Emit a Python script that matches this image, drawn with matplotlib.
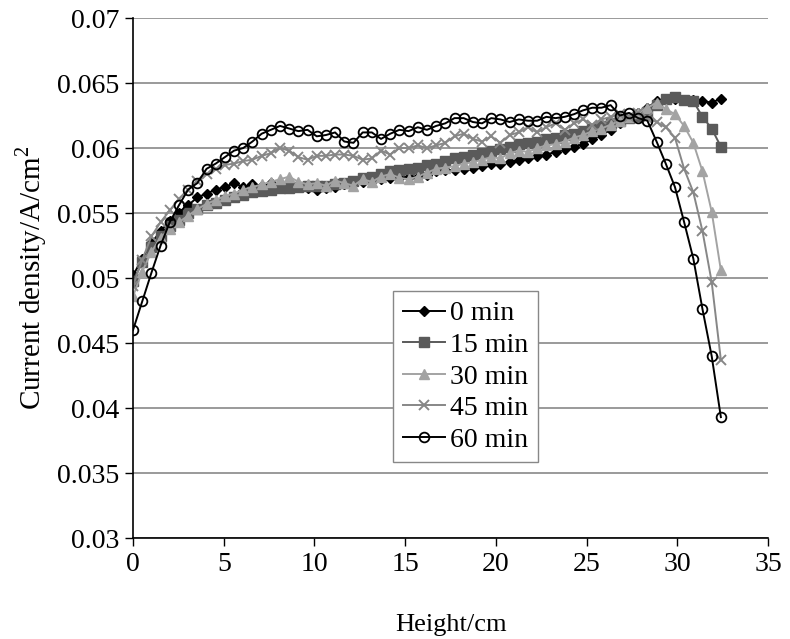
import numpy as np
import matplotlib
matplotlib.use("Agg")
import matplotlib.pyplot as plt
from matplotlib.ticker import FuncFormatter

# heights of the measuring points (cm), 65 points from 0 to 32.4
height = np.linspace(0, 32.4, 65)

min0 = [0.0502, 0.0515, 0.0527, 0.0536, 0.0544, 0.0550, 0.0556, 0.0562, 0.0565, 0.0568,
        0.0570, 0.0573, 0.0570, 0.0572, 0.0571, 0.0573, 0.0572, 0.0571, 0.0570, 0.0569,
        0.0568, 0.0569, 0.0570, 0.0572, 0.0573, 0.0574, 0.0575, 0.0576, 0.0577, 0.0577,
        0.0578, 0.0578, 0.0579, 0.0582, 0.0583, 0.0583, 0.0584, 0.0585, 0.0586, 0.0588,
        0.0588, 0.0589, 0.0591, 0.0592, 0.0594, 0.0595, 0.0597, 0.0599, 0.0601, 0.0603,
        0.0607, 0.0610, 0.0614, 0.0619, 0.0623, 0.0627, 0.0631, 0.0636, 0.0638, 0.0638,
        0.0637, 0.0637, 0.0636, 0.0635, 0.0638]
min15 = [0.0498, 0.0512, 0.0524, 0.0532, 0.0540, 0.0545, 0.0550, 0.0553, 0.0556, 0.0558,
         0.0560, 0.0562, 0.0564, 0.0566, 0.0567, 0.0568, 0.0569, 0.0569, 0.0570, 0.0571,
         0.0571, 0.0571, 0.0572, 0.0573, 0.0575, 0.0577, 0.0578, 0.0580, 0.0582, 0.0583,
         0.0584, 0.0585, 0.0587, 0.0588, 0.0590, 0.0592, 0.0593, 0.0595, 0.0596, 0.0598,
         0.0599, 0.0601, 0.0603, 0.0604, 0.0605, 0.0607, 0.0608, 0.0610, 0.0611, 0.0613,
         0.0615, 0.0617, 0.0619, 0.0621, 0.0623, 0.0625, 0.0628, 0.0633, 0.0638, 0.0639,
         0.0637, 0.0636, 0.0624, 0.0615, 0.0601]
min30 = [0.0486, 0.0505, 0.0520, 0.0531, 0.0538, 0.0543, 0.0548, 0.0553, 0.0557, 0.0560,
         0.0563, 0.0565, 0.0568, 0.0570, 0.0572, 0.0574, 0.0576, 0.0578, 0.0574, 0.0572,
         0.0573, 0.0571, 0.0575, 0.0573, 0.0571, 0.0576, 0.0574, 0.0578, 0.0580, 0.0577,
         0.0576, 0.0578, 0.0581, 0.0584, 0.0585, 0.0586, 0.0588, 0.0589, 0.0591, 0.0593,
         0.0592, 0.0596, 0.0598, 0.0597, 0.0600, 0.0602, 0.0603, 0.0605, 0.0608, 0.0610,
         0.0613, 0.0615, 0.0618, 0.0621, 0.0624, 0.0627, 0.0631, 0.0635, 0.0630, 0.0626,
         0.0617, 0.0604, 0.0582, 0.0551, 0.0506]
min45 = [0.0494, 0.0514, 0.0532, 0.0543, 0.0552, 0.0561, 0.0568, 0.0575, 0.0580, 0.0584,
         0.0587, 0.0588, 0.0590, 0.0591, 0.0594, 0.0596, 0.0600, 0.0598, 0.0593, 0.0591,
         0.0594, 0.0594, 0.0595, 0.0595, 0.0594, 0.0591, 0.0592, 0.0598, 0.0595, 0.0600,
         0.0600, 0.0602, 0.0600, 0.0602, 0.0604, 0.0609, 0.0611, 0.0607, 0.0605, 0.0609,
         0.0604, 0.0610, 0.0612, 0.0616, 0.0612, 0.0616, 0.0619, 0.0614, 0.0619, 0.0622,
         0.0618, 0.0622, 0.0624, 0.0626, 0.0624, 0.0627, 0.0623, 0.0620, 0.0616, 0.0608,
         0.0584, 0.0566, 0.0536, 0.0497, 0.0437]
min60 = [0.0460, 0.0482, 0.0504, 0.0525, 0.0543, 0.0556, 0.0568, 0.0573, 0.0584, 0.0588,
         0.0593, 0.0598, 0.0600, 0.0605, 0.0611, 0.0614, 0.0617, 0.0615, 0.0613, 0.0614,
         0.0609, 0.0610, 0.0612, 0.0605, 0.0604, 0.0612, 0.0612, 0.0607, 0.0611, 0.0614,
         0.0613, 0.0616, 0.0614, 0.0617, 0.0619, 0.0623, 0.0623, 0.0620, 0.0619, 0.0623,
         0.0622, 0.0620, 0.0622, 0.0621, 0.0621, 0.0624, 0.0623, 0.0624, 0.0626, 0.0629,
         0.0631, 0.0631, 0.0633, 0.0625, 0.0627, 0.0623, 0.0621, 0.0605, 0.0588, 0.0570,
         0.0543, 0.0515, 0.0476, 0.0440, 0.0393]

labels = ["0 min", "15 min", "30 min", "45 min", "60 min"]
series = [min0, min15, min30, min45, min60]
styles = [
    dict(color="black", marker="D", ms=5, mfc="black", mec="black"),
    dict(color="#5a5a5a", marker="s", ms=6.5, mfc="#5a5a5a", mec="#5a5a5a"),
    dict(color="#a3a3a3", marker="^", ms=7.5, mfc="#a3a3a3", mec="#a3a3a3"),
    dict(color="#878787", marker="x", ms=7, mew=1.4),
    dict(color="black", marker="o", ms=7, mfc="none", mec="black", mew=1.3),
]

plt.rcParams["font.family"] = ["Liberation Serif", "DejaVu Serif"]
plt.rcParams["mathtext.fontset"] = "custom"
plt.rcParams["mathtext.rm"] = "Liberation Serif"

fig = plt.figure(figsize=(7.9, 6.39), dpi=100)
ax = fig.add_axes([0.1684, 0.158, 0.8038, 0.8138])

for y, lab, st in zip(series, labels, styles):
    ax.plot(height, y, lw=1.4, label=lab, **st)

ax.set_xlim(0, 35)
ax.set_ylim(0.03, 0.07)
ax.set_xticks(range(0, 36, 5))
ax.set_yticks(np.arange(0.03, 0.0701, 0.005))
ax.yaxis.set_major_formatter(FuncFormatter(lambda v, p: f"{v:g}"))
ax.tick_params(labelsize=20, length=6, width=1, direction="out", pad=4)
ax.grid(axis="y", color="#9a9a9a", linewidth=1.4)
ax.set_axisbelow(True)
for s in ("top", "right"):
    ax.spines[s].set_visible(False)
for s in ("left", "bottom"):
    ax.spines[s].set_linewidth(1.2)

ax.set_xlabel("Height/cm", fontsize=19, labelpad=27)
ax.set_ylabel("Current density/A/cm$^\\mathrm{2}$", fontsize=21, labelpad=6)

leg = ax.legend(loc="center", bbox_to_anchor=(0.524, 0.31), fontsize=20,
                fancybox=False, framealpha=1, edgecolor="#888888",
                handlelength=1.5, handletextpad=0.2, borderpad=0.35, labelspacing=0.22)
leg.get_frame().set_linewidth(1.0)

fig.savefig("out.png", dpi=100)
